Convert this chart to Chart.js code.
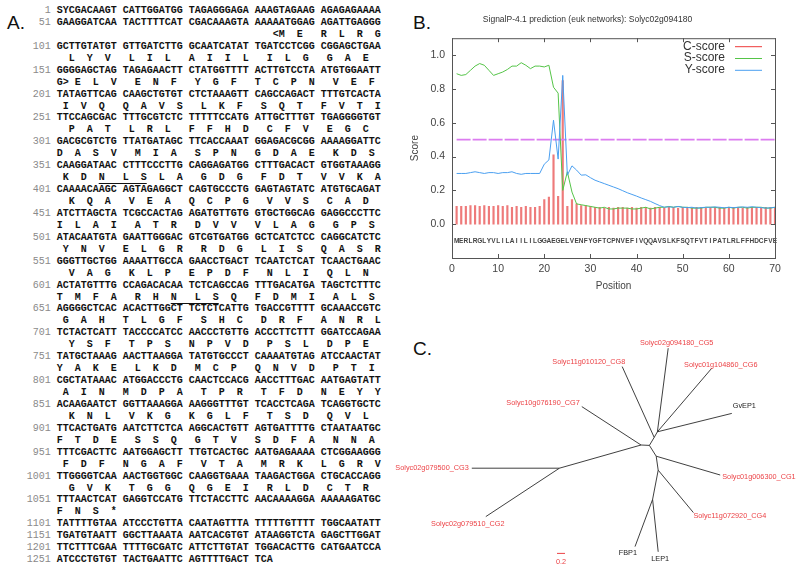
<!DOCTYPE html>
<html>
<head>
<meta charset="utf-8">
<script src="https://cdn.jsdelivr.net/npm/chart.js@4.4.1/dist/chart.umd.min.js"></script>
<style>
  body { margin: 0; width: 800px; height: 576px; background: #fff; position: relative; overflow: hidden; font-family: 'Liberation Sans', Arial, sans-serif; }
  .lbl { position: absolute; font-size: 19px; line-height: 1; color: #111; }
  #seq { position: absolute; left: 26.7px; top: 5px; margin: 0; font: bold 10px/11.93px 'Liberation Mono', 'Courier New', monospace; color: #111; }
  #seq .n { color: #8a8a8a; font-weight: normal; }
  #seq u { text-decoration-thickness: 1px; text-underline-offset: 3px; }
  #signalp { position: absolute; left: 400px; top: 0; }
  #tree { position: absolute; left: 390px; top: 330px; }
</style>
</head>
<body>
<div class="lbl" style="left:7px;top:13px">A.</div>
<div class="lbl" style="left:413px;top:13px">B.</div>
<div class="lbl" style="left:413px;top:339px">C.</div>
<pre id="seq"></pre>
<canvas id="signalp" width="400" height="300"></canvas>
<canvas id="tree" width="410" height="246"></canvas>
<script>
// ---- panel A: cDNA and translation
const dnaRows = [
  'SYCGACAAGT CATTGGATGG TAGAGGGAGA AAAGTAGAAG AGAGAGAAAA',
  'GAAGGATCAA TACTTTTCAT CGACAAAGTA AAAAATGGAG AGATTGAGGG',
  'GCTTGTATGT GTTGATCTTG GCAATCATAT TGATCCTCGG CGGAGCTGAA',
  'GGGGAGCTAG TAGAGAACTT CTATGGTTTT ACTTGTCCTA ATGTGGAATT',
  'TATAGTTCAG CAAGCTGTGT CTCTAAAGTT CAGCCAGACT TTTGTCACTA',
  'TTCCAGCGAC TTTGCGTCTC TTTTTCCATG ATTGCTTTGT TGAGGGGTGT',
  'GACGCGTCTG TTATGATAGC TTCACCAAAT GGAGACGCGG AAAAGGATTC',
  'CAAGGATAAC CTTTCCCTTG CAGGAGATGG CTTTGACACT GTGGTAAAGG',
  'CAAAACAAGC AGTAGAGGCT CAGTGCCCTG GAGTAGTATC ATGTGCAGAT',
  'ATCTTAGCTA TCGCCACTAG AGATGTTGTG GTGCTGGCAG GAGGCCCTTC',
  'ATACAATGTA GAATTGGGAC GTCGTGATGG GCTCATCTCC CAGGCATCTC',
  'GGGTTGCTGG AAAATTGCCA GAACCTGACT TCAATCTCAT TCAACTGAAC',
  'ACTATGTTTG CCAGACACAA TCTCAGCCAG TTTGACATGA TAGCTCTTTC',
  'AGGGGCTCAC ACACTTGGCT TCTCTCATTG TGACCGTTTT GCAAACCGTC',
  'TCTACTCATT TACCCCATCC AACCCTGTTG ACCCTTCTTT GGATCCAGAA',
  'TATGCTAAAG AACTTAAGGA TATGTGCCCT CAAAATGTAG ATCCAACTAT',
  'CGCTATAAAC ATGGACCCTG CAACTCCACG AACCTTTGAC AATGAGTATT',
  'ACAAGAATCT GGTTAAAGGA AAGGGTTTGT TCACCTCAGA TCAGGTGCTC',
  'TTCACTGATG AATCTTCTCA AGGCACTGTT AGTGATTTTG CTAATAATGC',
  'TTTCGACTTC AATGGAGCTT TTGTCACTGC AATGAGAAAA CTCGGAAGGG',
  'TTGGGGTCAA AACTGGTGGC CAAGGTGAAA TAAGACTGGA CTGCACCAGG',
  'TTTAACTCAT GAGGTCCATG TTCTACCTTC AACAAAAGGA AAAAAGATGC',
  'TATTTTGTAA ATCCCTGTTA CAATAGTTTA TTTTTGTTTT TGGCAATATT',
  'TGATGTAATT GGCTTAAATA AATCACGTGT ATAAGGTCTA GAGCTTGGAT',
  'TTCTTTCGAA TTTTGCGATC ATTCTTGTAT TGGACACTTG CATGAATCCA',
  'ATCCCTGTGT TACTGAATTC AGTTTTGACT TCA'
];
const protein =
  'MERLRGLYVLILAIILILGGAEGELVENFYGFTCPNVEFIVQQAVSLKFSQTFVTIPATLRLFFHDCFVEGC' +
  'DASVMIASPNGDAEKDSKDNLSLAGDGFDTVVKAKQAVEAQCPGVVSCADILAIATRDVVVLAGGPS' +
  'YNVELGRRDGLISQASRVAGKLPEPDFNLIQLNTMFARHNLSQFDMIALSGAHTLGFSHCDRFANRL' +
  'YSFTPSNPVDPSLDPEYAKELKDMCPQNVDPTIAINMDPATPRTFDNEYYKNLVKGKGLFTSDQVL' +
  'FTDESSQGTVSDFANNAFDFNGAFVTAMRKLGRVGVKTGGQGEIRLDCTRFNS*';
const orfStart = 85;     // nucleotide of the ATG
const signalEnd = 23;    // last residue of the signal peptide
const nlsMotif = 'NLS';

// ---- panel B: SignalP scores by position
const residues = 'MERLRGLYVLILAIILILGGAEGELVENFYGFTCPNVEFIVQQAVSLKFSQTFVTIPATLRLFFHDCFVE'.split('');
const cScore = [
  0.105, 0.105, 0.105, 0.11, 0.11, 0.105, 0.11, 0.105, 0.105, 0.11,
  0.105, 0.11, 0.10, 0.105, 0.10, 0.105, 0.10, 0.10, 0.105, 0.145,
  0.16, 0.41, 0.165, 0.85, 0.105, 0.145, 0.12, 0.11, 0.11, 0.105,
  0.10, 0.10, 0.095, 0.10, 0.095, 0.10, 0.10, 0.095, 0.10, 0.095,
  0.10, 0.10, 0.095, 0.10, 0.10, 0.095, 0.10, 0.10, 0.095, 0.10,
  0.10, 0.095, 0.10, 0.10, 0.095, 0.10, 0.10, 0.10, 0.095, 0.10,
  0.10, 0.10, 0.095, 0.10, 0.10, 0.10, 0.095, 0.10, 0.10, 0.095
];
const sScore = [
  0.89, 0.88, 0.885, 0.91, 0.935, 0.95, 0.94, 0.91, 0.88, 0.89,
  0.90, 0.915, 0.935, 0.935, 0.955, 0.94, 0.92, 0.935, 0.935, 0.93,
  0.94, 0.81, 0.775, 0.20, 0.31, 0.19, 0.12, 0.115, 0.11, 0.105,
  0.10, 0.095, 0.10, 0.09, 0.09, 0.095, 0.095, 0.095, 0.09, 0.09,
  0.095, 0.10, 0.09, 0.095, 0.10, 0.10, 0.105, 0.10, 0.105, 0.10,
  0.10, 0.095, 0.095, 0.095, 0.10, 0.10, 0.10, 0.095, 0.095, 0.10,
  0.095, 0.10, 0.10, 0.095, 0.10, 0.10, 0.10, 0.095, 0.095, 0.10
];
const yScore = [
  0.30, 0.30, 0.30, 0.305, 0.31, 0.305, 0.30, 0.305, 0.305, 0.30,
  0.305, 0.305, 0.31, 0.30, 0.295, 0.30, 0.30, 0.30, 0.30, 0.355,
  0.38, 0.615, 0.385, 0.88, 0.29, 0.345, 0.32, 0.29, 0.292, 0.275,
  0.26, 0.25, 0.24, 0.23, 0.22, 0.21, 0.198, 0.186, 0.176, 0.166,
  0.155, 0.145, 0.135, 0.122, 0.11, 0.10, 0.103, 0.10, 0.105, 0.10,
  0.098, 0.10, 0.095, 0.098, 0.10, 0.10, 0.102, 0.10, 0.097, 0.10,
  0.098, 0.10, 0.102, 0.10, 0.103, 0.10, 0.098, 0.095, 0.097, 0.10
];
const cutoff = 0.5;
const yTicks = [0.0, 0.2, 0.4, 0.6, 0.8, 1.0];
const xTicks = [0, 10, 20, 30, 40, 50, 60, 70];
const seriesNames = ['C-score', 'S-score', 'Y-score'];

// ---- panel C: unrooted tree (branch-length units)
const treeNodes = {
  A: [0, 0], B: [0.21, -0.01], U1: [0.33, 0.19], U2: [0.41, 0.33],
  Dn: [0.38, -0.28], F: [0.43, -0.63], G: [0.29, -1.36], L: [-2.04, -0.58],
  CG8: [-0.47, 1.96], CG5: [0.68, 2.42], CG6: [1.77, 1.92], GvEP1: [2.27, 0.79],
  CG1: [1.98, -0.75], CG4: [1.31, -1.69], FBP1: [-0.15, -2.54], LEP1: [0.43, -2.67],
  CG3: [-4.23, -0.58], CG2: [-3.88, -1.79], CG7: [-1.48, 0.96]
};
const treeEdges = [
  ['A', 'B'], ['A', 'L'], ['L', 'CG3'], ['L', 'CG2'], ['A', 'CG7'],
  ['B', 'U1'], ['U1', 'CG8'], ['U1', 'U2'], ['U2', 'CG5'], ['U2', 'CG6'], ['U2', 'GvEP1'],
  ['B', 'Dn'], ['Dn', 'CG1'], ['Dn', 'F'], ['F', 'CG4'], ['F', 'G'], ['G', 'FBP1'], ['G', 'LEP1']
];
const leafNames = {
  CG5: 'Solyc02g094180_CG5', CG8: 'Solyc11g010120_CG8', CG6: 'Solyc01g104860_CG6',
  CG7: 'Solyc10g076190_CG7', GvEP1: 'GvEP1', CG3: 'Solyc02g079500_CG3',
  CG1: 'Solyc01g006300_CG1', CG2: 'Solyc02g079510_CG2', CG4: 'Solyc11g072920_CG4',
  FBP1: 'FBP1', LEP1: 'LEP1'
};
const tomatoLeaves = ['CG1', 'CG2', 'CG3', 'CG4', 'CG5', 'CG6', 'CG7', 'CG8'];
const scaleBarLength = 0.2;

// ---- build panel A text
(function () {
  const colOf = i => i + Math.floor(i / 10);
  const nlsStarts = [];
  let k = protein.indexOf(nlsMotif);
  while (k >= 0) { nlsStarts.push(k); k = protein.indexOf(nlsMotif, k + 1); }
  const esc = c => c === '<' ? '&lt;' : c === '>' ? '&gt;' : c;
  const lines = [];
  dnaRows.forEach((row, r) => {
    const start = 1 + r * 50;
    lines.push('<span class="n">' + String(start).padStart(4) + '</span> ' + row);
    const cells = Array(54).fill(' ');
    const under = Array(54).fill(false);
    let any = false, from = 0;
    for (let j = 0; j < protein.length; j++) {
      const s = orfStart + 3 * j;
      if (s < start || s > start + 49) continue;
      any = true;
      const c = colOf(s - start);
      cells[c] = protein[j];
      if (j === 0) cells[c - 1] = '<';
      if (j === signalEnd - 1) cells[c + 1] = '>';
      nlsStarts.forEach(n => {
        if (j === n) from = c;
        if (j === n + nlsMotif.length - 1) for (let q = from; q <= c; q++) under[q] = true;
      });
    }
    if (!any) return;
    let html = '     ', open = false;
    cells.forEach((ch, i) => {
      if (under[i] && !open) { html += '<u>'; open = true; }
      if (!under[i] && open) { html += '</u>'; open = false; }
      html += esc(ch);
    });
    if (open) html += '</u>';
    lines.push(html.replace(/\s+$/, ''));
  });
  document.getElementById('seq').innerHTML = lines.join('\n');
})();

// ---- panel B chart
const font = { family: "'Liberation Sans', Arial, sans-serif" };
const colours = { c: '#ee7a7a', cLegend: '#ee3b3b', s: '#55c448', y: '#4a9ff0', cut: '#dc7cf0' };

const frame = {
  id: 'frame',
  afterDraw(chart) {
    const { ctx, chartArea: a, scales: { x, y } } = chart;
    ctx.save();
    ctx.strokeStyle = '#555';
    ctx.lineWidth = 1;
    ctx.strokeRect(a.left + 0.5, a.top + 0.5, a.right - a.left, a.bottom - a.top);
    ctx.beginPath();
    x.ticks.forEach(t => {
      const px = Math.round(x.getPixelForValue(t.value)) + 0.5;
      ctx.moveTo(px, a.bottom); ctx.lineTo(px, a.bottom - 4);
      ctx.moveTo(px, a.top); ctx.lineTo(px, a.top + 4);
    });
    y.ticks.forEach(t => {
      const py = Math.round(y.getPixelForValue(t.value)) + 0.5;
      ctx.moveTo(a.left, py); ctx.lineTo(a.left + 4, py);
      ctx.moveTo(a.right, py); ctx.lineTo(a.right - 4, py);
    });
    ctx.stroke();

    // legend, text right-aligned with the sample line on its right
    const cols = [colours.cLegend, colours.s, colours.y];
    ctx.font = "12px 'Liberation Sans', Arial, sans-serif";
    ctx.textAlign = 'right';
    ctx.textBaseline = 'middle';
    seriesNames.forEach((n, i) => {
      const ly = a.top + 8 + i * 11.8;
      ctx.fillStyle = '#333';
      ctx.fillText(n, a.right - 50, ly);
      ctx.strokeStyle = cols[i];
      ctx.beginPath();
      ctx.moveTo(a.right - 40, ly + 0.5); ctx.lineTo(a.right - 13, ly + 0.5);
      ctx.stroke();
    });
    ctx.restore();
  }
};

const residueLetters = {
  id: 'residueLetters',
  afterDatasetsDraw(chart) {
    const { ctx, scales: { x, y } } = chart;
    ctx.save();
    ctx.font = "bold 6.5px 'Liberation Sans', Arial, sans-serif";
    ctx.fillStyle = '#444';
    ctx.textAlign = 'center';
    ctx.textBaseline = 'middle';
    residues.forEach((r, i) => ctx.fillText(r, x.getPixelForValue(i + 1), y.getPixelForValue(-0.1)));
    ctx.restore();
  }
};

new Chart(document.getElementById('signalp'), {
  type: 'line',
  data: {
    datasets: [
      {
        type: 'bar', label: seriesNames[0],
        data: residues.map((r, i) => ({ x: i + 1, y: cScore[i] })),
        backgroundColor: colours.c, barThickness: 1.5, order: 4
      },
      {
        label: seriesNames[1],
        data: residues.map((r, i) => ({ x: i + 1, y: sScore[i] })),
        borderColor: colours.s, borderWidth: 1, pointRadius: 0, order: 2
      },
      {
        label: seriesNames[2],
        data: residues.map((r, i) => ({ x: i + 1, y: yScore[i] })),
        borderColor: colours.y, borderWidth: 1, pointRadius: 0, order: 1
      },
      {
        label: 'cutoff',
        data: [{ x: 1, y: cutoff }, { x: residues.length, y: cutoff }],
        borderColor: colours.cut, borderWidth: 1.6, borderDash: [14, 2], pointRadius: 0, order: 3
      }
    ]
  },
  options: {
    responsive: false,
    animation: false,
    layout: { padding: { right: 25 } },
    plugins: {
      legend: { display: false },
      tooltip: { enabled: false },
      title: {
        display: true,
        text: 'SignalP-4.1 prediction (euk networks): Solyc02g094180',
        color: '#333',
        font: { ...font, size: 8.5, weight: 'normal' },
        padding: { top: 15, bottom: 13 }
      }
    },
    scales: {
      x: {
        type: 'linear', min: 0, max: 70, offset: false,
        afterBuildTicks: s => { s.ticks = xTicks.map(v => ({ value: v })); },
        afterFit: s => { s.height = 42; },
        grid: { display: false, drawTicks: false },
        border: { display: false },
        ticks: { color: '#444', padding: 5, font: { ...font, size: 10.5 } },
        title: { display: true, text: 'Position', color: '#444', font: { ...font, size: 10 }, padding: { top: 0, bottom: 8 } }
      },
      y: {
        min: -0.2, max: 1.1,
        afterBuildTicks: s => { s.ticks = yTicks.map(v => ({ value: v })); },
        afterFit: s => { s.width = 52; },
        grid: { display: false, drawTicks: false },
        border: { display: false },
        ticks: { color: '#444', padding: 7, font: { ...font, size: 10.5 }, callback: v => v.toFixed(1) },
        title: { display: true, text: 'Score', color: '#444', font: { ...font, size: 10 }, padding: { top: 9, bottom: 0 } }
      }
    }
  },
  plugins: [frame, residueLetters]
});

// ---- panel C chart
const leafText = {
  id: 'leafText',
  afterDatasetsDraw(chart) {
    const { ctx, scales: { x, y } } = chart;
    // label placement relative to each leaf tip: [align, dx, dy]
    const place = {
      CG5: ['center', 8.5, -5], CG8: ['right', 3, -4.5], CG6: ['center', 9, -3],
      CG7: ['right', -2, -4], GvEP1: ['left', 1, -7], CG3: ['right', -3, 0],
      CG1: ['left', 2, 2], CG2: ['center', -18, 7], CG4: ['left', 0, 3],
      FBP1: ['right', 2, 6], LEP1: ['center', 2, 7]
    };
    ctx.save();
    ctx.font = "7.3px 'Liberation Sans', Arial, sans-serif";
    ctx.textBaseline = 'middle';
    Object.keys(leafNames).forEach(k => {
      const [al, dx, dy] = place[k];
      const [nx, ny] = treeNodes[k];
      ctx.textAlign = al;
      ctx.fillStyle = tomatoLeaves.includes(k) ? '#ec4347' : '#222';
      ctx.fillText(leafNames[k], x.getPixelForValue(nx) + dx, y.getPixelForValue(ny) + dy);
    });
    const bar = chart.data.datasets[chart.data.datasets.length - 1].data;
    ctx.fillStyle = '#ec4347';
    ctx.textAlign = 'center';
    ctx.fillText(String(scaleBarLength), x.getPixelForValue((bar[0].x + bar[1].x) / 2), y.getPixelForValue(bar[0].y) + 9);
    ctx.restore();
  }
};

const barX = -2.1, barY = -2.71;
new Chart(document.getElementById('tree'), {
  type: 'scatter',
  data: {
    datasets: treeEdges.map(([a, b]) => ({
      data: [{ x: treeNodes[a][0], y: treeNodes[a][1] }, { x: treeNodes[b][0], y: treeNodes[b][1] }],
      showLine: true, borderColor: '#2a2a2a', borderWidth: 0.9, pointRadius: 0
    })).concat([{
      data: [{ x: barX, y: barY }, { x: barX + scaleBarLength, y: barY }],
      showLine: true, borderColor: '#ec4347', borderWidth: 1, pointRadius: 0
    }])
  },
  options: {
    responsive: false,
    animation: false,
    layout: { padding: 0 },
    plugins: { legend: { display: false }, tooltip: { enabled: false } },
    scales: {
      x: { type: 'linear', display: false, min: -6.275, max: 3.975 },
      y: { type: 'linear', display: false, min: -3.275, max: 2.875 }
    }
  },
  plugins: [leafText]
});
</script>
</body>
</html>
